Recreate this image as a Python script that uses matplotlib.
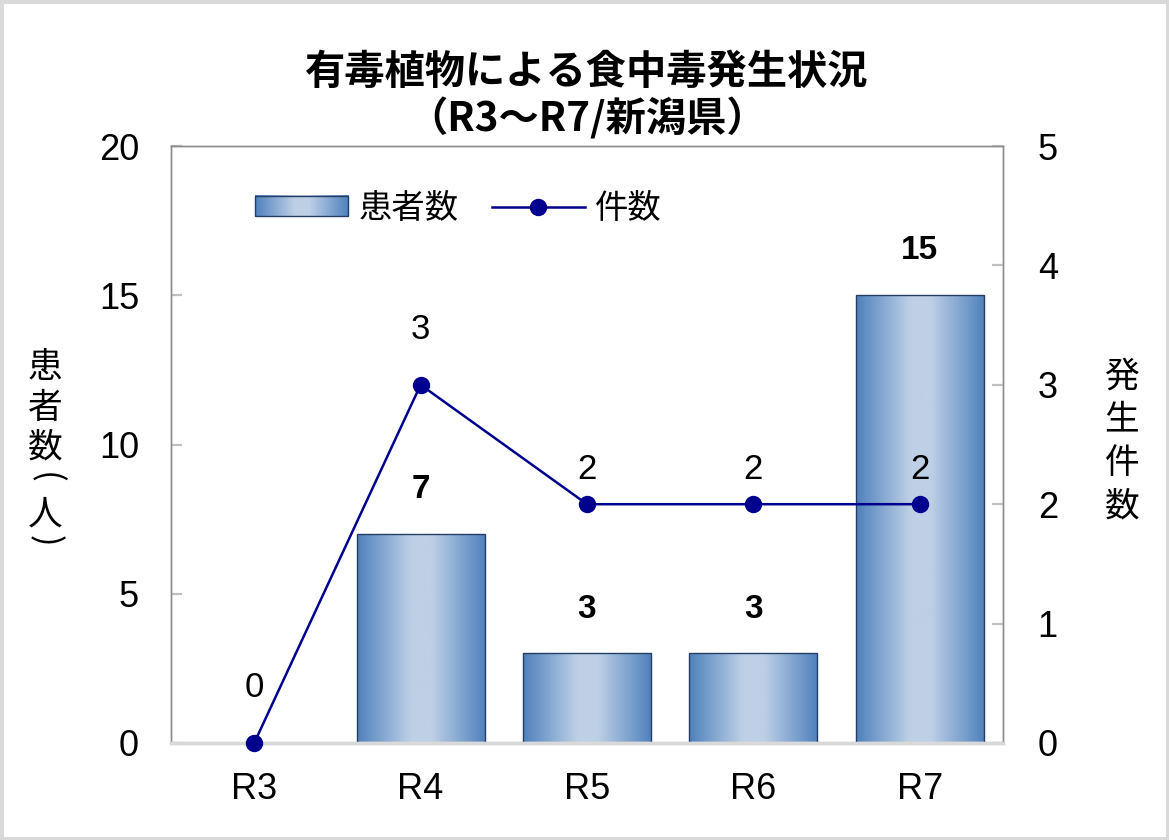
import numpy as np
import matplotlib
matplotlib.use("Agg")
import matplotlib.pyplot as plt
from matplotlib.colors import LinearSegmentedColormap
from matplotlib.patches import Rectangle
from matplotlib.legend_handler import HandlerBase
from matplotlib.image import BboxImage
from matplotlib.transforms import Bbox, TransformedBbox
from matplotlib.lines import Line2D

categories = ["R3", "R4", "R5", "R6", "R7"]
patients = [0, 7, 3, 3, 15]
incidents = [0, 3, 2, 2, 2]
left_ticks = [0, 5, 10, 15, 20]
right_ticks = [0, 1, 2, 3, 4, 5]
title_line1 = "有毒植物による食中毒発生状況"
title_line2 = "（R3～R7/新潟県）"
left_label = "患者数(人)"
right_label = "発生件数"
legend_bar = "患者数"
legend_line = "件数"

FONT = ["Liberation Sans", "Noto Sans CJK JP"]
CJK = ["Noto Sans CJK JP", "Liberation Sans"]
plt.rcParams["font.family"] = FONT

edge_blue = "#4F81BD"
light_blue = "#BED0E6"
cmap = LinearSegmentedColormap.from_list(
    "barg", [(0.0, edge_blue), (0.42, light_blue), (0.58, light_blue), (1.0, edge_blue)])
grad = np.linspace(0, 1, 256).reshape(1, -1)
line_color = "#00008F"
bar_edge = "#243F66"

fig = plt.figure(figsize=(11.69, 8.40), dpi=100)
ax = fig.add_axes([171 / 1169, 1 - 743 / 840, (1003 - 171) / 1169, (743 - 146) / 840])
ax2 = ax.twinx()

x = np.arange(len(categories))
bars = ax.bar(x, patients, width=0.77, facecolor="none", edgecolor=bar_edge, linewidth=1.0, zorder=3)
for b in bars:
    x0, w, h = b.get_x(), b.get_width(), b.get_height()
    if h <= 0:
        continue
    im = ax.imshow(grad, cmap=cmap, aspect="auto", extent=(x0, x0 + w, 0, h),
                   interpolation="bicubic", zorder=2)
    im.set_clip_path(b)

ax.set_xlim(-0.5, len(categories) - 0.5)
ax.set_ylim(0, 20)
ax.set_yticks(left_ticks)
ax.set_xticks(x)
ax.set_xticklabels(categories)
ax2.set_ylim(0, 5)
ax2.set_yticks(right_ticks)

for a in (ax, ax2):
    for s in a.spines.values():
        s.set_color("#8C8C8C")
        s.set_linewidth(1.0)
    a.spines["bottom"].set_color("#D9D9D9")
    a.spines["bottom"].set_linewidth(2.5)
ax.tick_params(axis="y", direction="in", length=8, width=1.6, color="#C0C0C0",
               labelsize=26, pad=23)
ax.tick_params(axis="x", length=0, labelsize=26, pad=21)
ax2.tick_params(axis="y", direction="in", length=8, width=1.6, color="#C0C0C0",
                labelsize=26, pad=25)

ax2.plot(x, incidents, color=line_color, linewidth=1.8, marker="o", markersize=11.5,
         markerfacecolor=line_color, markeredgecolor=line_color, zorder=5, clip_on=False)

# bar value labels (bold)
for xi, v in zip(x, patients):
    if v > 0:
        ax.annotate(str(v), (xi, v), xytext=(0, 32), textcoords="offset points",
                    ha="center", va="center", fontsize=24, fontweight="bold")
# line value labels
line_offsets = [40, 40, 25, 25, 25]
for xi, v, off in zip(x, incidents, line_offsets):
    ax2.annotate(str(v), (xi, v), xytext=(0, off), textcoords="offset points",
                 ha="center", va="center", fontsize=25)


class GradientHandler(HandlerBase):
    def create_artists(self, legend, orig_handle, xdescent, ydescent, width, height, fontsize, trans):
        bb = TransformedBbox(Bbox.from_bounds(-xdescent, -ydescent, width, height), trans)
        img = BboxImage(bb, cmap=cmap, interpolation="bicubic")
        img.set_data(grad)
        rect = Rectangle((-xdescent, -ydescent), width, height, facecolor="none",
                         edgecolor=bar_edge, linewidth=1.0, transform=trans)
        return [img, rect]


bar_handle = Rectangle((0, 0), 1, 1)
line_handle = Line2D([], [], color=line_color, linewidth=1.8, marker="o", markersize=11.5)
leg = ax2.legend([bar_handle, line_handle], [legend_bar, legend_line],
                 handler_map={Rectangle: GradientHandler()},
                 loc="center left", bbox_to_anchor=(0.101, 0.896), ncol=2, frameon=False,
                 borderpad=0, borderaxespad=0, handlelength=2.8, handleheight=0.55,
                 handletextpad=0.3, columnspacing=1.0, prop={"family": CJK, "size": 24})

fig.text(587 / 1169, 1 - 72 / 840, title_line1, ha="center", va="center",
         fontsize=29, fontweight="bold", family=CJK)
fig.text(587 / 1169, 1 - 119 / 840, title_line2, ha="center", va="center",
         fontsize=29, fontweight="bold", family=CJK)

# vertical (stacked) axis titles, one character per position
left_y = [367, 408, 448, 478, 515, 541]
for ch, yy in zip(left_label, left_y):
    rot = -90 if ch in "()" else 0
    fig.text(45 / 1169, 1 - yy / 840, ch, ha="center", va="center", fontsize=25,
             family=CJK, rotation=rot, rotation_mode="anchor")
right_y = [377, 420, 463, 507]
for ch, yy in zip(right_label, right_y):
    fig.text(1122 / 1169, 1 - yy / 840, ch, ha="center", va="center", fontsize=25,
             family=CJK)

fig.patches.append(Rectangle((0, 0), 1, 1, transform=fig.transFigure, facecolor="none",
                             edgecolor="#D9D9D9", linewidth=5, zorder=10))

fig.savefig("out.png", dpi=100)
